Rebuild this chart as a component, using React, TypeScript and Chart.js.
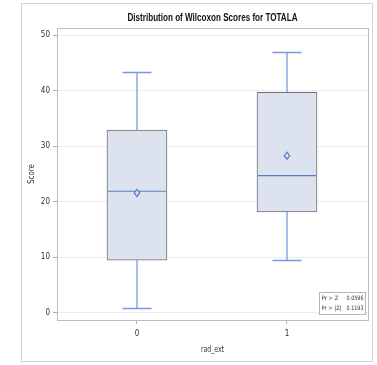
import React, { useEffect, useRef } from "react";
import { Chart, registerables } from "chart.js";

Chart.register(...registerables);

const categories = [0, 1];
const tickLabels = ["0", "1"];
const yTicks = [0, 10, 20, 30, 40, 50];
const whiskerMin = [0.95, 9.5];
const q1 = [9.5, 18.2];
const median = [21.9, 24.7];
const q3 = [32.9, 39.7];
const whiskerMax = [43.4, 46.9];
const means = [21.6, 28.3];
const statLabels = ["Pr > Z", "Pr > |Z|"];
const statValues = ["0.0596", "0.1193"];

const FONT = "'Liberation Sans', Arial, sans-serif";
const TICKFONT = "'DejaVu Sans Condensed', 'Liberation Sans', sans-serif";

function condensedText(ctx: any, text: string, x: number, y: number, width: number) {
  const w = ctx.measureText(text).width;
  const sx = Math.min(1, width / w);
  ctx.save();
  ctx.translate(x, y);
  ctx.scale(sx, 1);
  ctx.fillText(text, 0, 0);
  ctx.restore();
}

export default function App() {
  const ref = useRef<HTMLCanvasElement | null>(null);
  useEffect(() => {
    document.body.style.margin = "0";
    const canvas = ref.current!;
    const boxPlugin = {
      id: "boxExtras",
      beforeDraw(chart: any) {
        const ctx = chart.ctx;
        ctx.save();
        ctx.fillStyle = "#ffffff";
        ctx.fillRect(0, 0, chart.width, chart.height);
        ctx.strokeStyle = "#d4d4d4";
        ctx.lineWidth = 1;
        ctx.strokeRect(21.5, 3.5, 351, 358);
        ctx.restore();
      },
      beforeDatasetsDraw(chart: any) {
        const ctx = chart.ctx;
        const xs = chart.scales.x;
        const ys = chart.scales.y;
        ctx.save();
        ctx.strokeStyle = "#7a98de";
        ctx.lineWidth = 1.3;
        categories.forEach((c, i) => {
          const x = Math.round(xs.getPixelForValue(c));
          const capHalf = 14.5;
          const yMax = Math.round(ys.getPixelForValue(whiskerMax[i])) + 0.5;
          const yQ3 = ys.getPixelForValue(q3[i]);
          const yMin = Math.round(ys.getPixelForValue(whiskerMin[i])) + 0.5;
          const yQ1 = ys.getPixelForValue(q1[i]);
          ctx.beginPath();
          ctx.moveTo(x, yMax);
          ctx.lineTo(x, yQ3);
          ctx.moveTo(x, yMin);
          ctx.lineTo(x, yQ1);
          ctx.stroke();
          ctx.beginPath();
          ctx.lineWidth = 1.3;
          ctx.moveTo(x - capHalf, yMax);
          ctx.lineTo(x + capHalf, yMax);
          ctx.moveTo(x - capHalf, yMin);
          ctx.lineTo(x + capHalf, yMin);
          ctx.stroke();
        });
        ctx.restore();
      },
      afterDatasetsDraw(chart: any) {
        const ctx = chart.ctx;
        const xs = chart.scales.x;
        const ys = chart.scales.y;
        const a = chart.chartArea;
        ctx.save();
        // median lines
        ctx.strokeStyle = "#5a7bc4";
        ctx.lineWidth = 1.2;
        const meta = chart.getDatasetMeta(0);
        categories.forEach((c, i) => {
          const bar = meta.data[i];
          const half = bar.width / 2;
          const x = xs.getPixelForValue(c);
          const y = ys.getPixelForValue(median[i]);
          ctx.beginPath();
          ctx.moveTo(x - half + 1, y);
          ctx.lineTo(x + half - 1, y);
          ctx.stroke();
        });
        // means
        ctx.strokeStyle = "#5a7bc4";
        ctx.fillStyle = "#dce3ee";
        ctx.lineWidth = 1.2;
        categories.forEach((c, i) => {
          const x = xs.getPixelForValue(c);
          const y = ys.getPixelForValue(means[i]);
          ctx.beginPath();
          ctx.moveTo(x, y - 3.5);
          ctx.lineTo(x + 2.7, y);
          ctx.lineTo(x, y + 3.5);
          ctx.lineTo(x - 2.7, y);
          ctx.closePath();
          ctx.fill();
          ctx.stroke();
        });
        // plot frame
        ctx.strokeStyle = "#bdbdbd";
        ctx.lineWidth = 1;
        ctx.strokeRect(Math.round(a.left) + 0.5, Math.round(a.top) + 0.5, Math.round(a.right - a.left), Math.round(a.bottom - a.top));
        // inset
        const bx = 319.5, by = 292.5, bw = 46, bh = 22;
        ctx.fillStyle = "#ffffff";
        ctx.fillRect(bx, by, bw, bh);
        ctx.strokeStyle = "#b5b5b5";
        ctx.strokeRect(bx, by, bw, bh);
        ctx.fillStyle = "#333333";
        ctx.font = "6px " + TICKFONT;
        ctx.textBaseline = "middle";
        statLabels.forEach((s, i) => {
          const yy = by + 6 + i * 10;
          ctx.textAlign = "left";
          condensedText(ctx, s, bx + 2, yy, 20);
          ctx.textAlign = "right";
          condensedText(ctx, statValues[i], bx + bw - 2, yy, 17);
        });
        // titles
        ctx.fillStyle = "#111111";
        ctx.textAlign = "center";
        ctx.font = "bold 10px " + FONT;
        condensedText(ctx, "Distribution of Wilcoxon Scores for TOTALA", (a.left + a.right) / 2, 18, 170);
        ctx.fillStyle = "#333333";
        ctx.font = "8px " + TICKFONT;
        condensedText(ctx, "rad_ext", (a.left + a.right) / 2, 350, 23);
        ctx.translate(32, (a.top + a.bottom) / 2);
        ctx.rotate(-Math.PI / 2);
        condensedText(ctx, "Score", 0, 0, 20);
        ctx.restore();
      },
    };

    const chart = new Chart(canvas, {
      type: "bar",
      data: {
        datasets: [
          {
            type: "bar",
            data: categories.map((c, i) => ({ x: c, y: [q1[i], q3[i]] })) as any,
            backgroundColor: "#dce3ee",
            borderColor: "#707070",
            borderWidth: 1,
            borderSkipped: false,
            barThickness: 60,
          } as any,
        ],
      },
      options: {
        animation: false,
        responsive: false,
        maintainAspectRatio: false,
        layout: { padding: { left: 21, top: 28, right: 9, bottom: 5 } },
        plugins: { legend: { display: false }, tooltip: { enabled: false }, title: { display: false } },
        scales: {
          x: {
            type: "linear",
            offset: false,
            min: -0.533,
            max: 1.54,
            afterBuildTicks: (s: any) => {
              s.ticks = categories.map((v) => ({ value: v }));
            },
            afterFit: (s: any) => {
              s.height = 40;
            },
            ticks: {
              callback: (v: any) => tickLabels[categories.indexOf(Number(v))] ?? "",
              font: { size: 8, family: TICKFONT },
              color: "#333333",
              padding: 5,
              maxRotation: 0,
            },
            grid: { offset: false, drawOnChartArea: false, drawTicks: true, tickLength: 4, color: "#b0b0b0" },
            border: { display: false },
          },
          y: {
            type: "linear",
            min: -1.26,
            max: 51.26,
            afterBuildTicks: (s: any) => {
              s.ticks = yTicks.map((v) => ({ value: v }));
            },
            afterFit: (s: any) => {
              s.width = 36;
            },
            ticks: {
              font: { size: 8, family: TICKFONT },
              color: "#333333",
              padding: 3,
            },
            grid: { color: "#ececec", tickColor: "#b0b0b0", tickLength: 4 },
            border: { display: false },
          },
        },
      },
      plugins: [boxPlugin],
    } as any);
    return () => chart.destroy();
  }, []);
  return (
    <div style={{ width: 377, height: 365 }}>
      <canvas ref={ref} width={377} height={365} style={{ display: "block", width: 377, height: 365 }} />
    </div>
  );
}
